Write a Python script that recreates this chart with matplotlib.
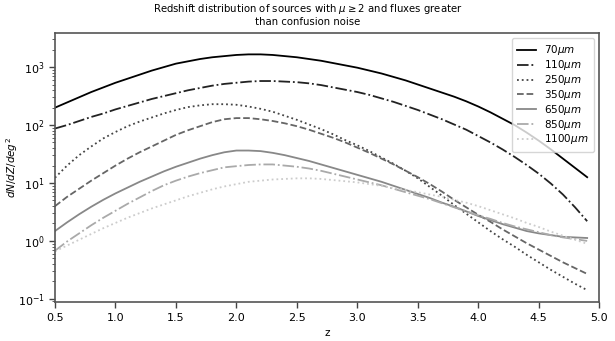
import numpy as np
import matplotlib
matplotlib.use("Agg")
import matplotlib.pyplot as plt

z = [0.5, 0.6, 0.7, 0.8, 0.9, 1.0, 1.1, 1.2, 1.3, 1.4, 1.5, 1.6, 1.7, 1.8, 1.9,
     2.0, 2.1, 2.2, 2.3, 2.4, 2.5, 2.6, 2.7, 2.8, 2.9, 3.0, 3.1, 3.2, 3.3, 3.4,
     3.5, 3.6, 3.7, 3.8, 3.9, 4.0, 4.1, 4.2, 4.3, 4.4, 4.5, 4.6, 4.7, 4.8, 4.9]

# log10(dN/dZ/deg^2)
log_70 = [2.30, 2.39, 2.48, 2.57, 2.65, 2.73, 2.80, 2.87, 2.94, 3.00, 3.06, 3.10, 3.14, 3.17, 3.19,
          3.21, 3.22, 3.22, 3.21, 3.19, 3.17, 3.14, 3.11, 3.07, 3.03, 2.99, 2.94, 2.89, 2.83, 2.77,
          2.70, 2.63, 2.56, 2.49, 2.41, 2.32, 2.22, 2.11, 2.00, 1.87, 1.73, 1.58, 1.42, 1.26, 1.10]
log_110 = [1.94, 2.00, 2.07, 2.14, 2.20, 2.27, 2.33, 2.39, 2.45, 2.50, 2.55, 2.60, 2.64, 2.68, 2.71,
           2.73, 2.75, 2.76, 2.76, 2.75, 2.74, 2.72, 2.69, 2.65, 2.61, 2.57, 2.52, 2.46, 2.40, 2.33,
           2.26, 2.18, 2.10, 2.01, 1.92, 1.81, 1.70, 1.58, 1.45, 1.31, 1.16, 0.99, 0.80, 0.58, 0.34]
log_250 = [1.09, 1.30, 1.48, 1.63, 1.77, 1.88, 1.98, 2.06, 2.13, 2.20, 2.26, 2.31, 2.34, 2.36, 2.36,
           2.35, 2.32, 2.28, 2.23, 2.16, 2.09, 2.01, 1.93, 1.84, 1.74, 1.65, 1.55, 1.44, 1.33, 1.21,
           1.08, 0.93, 0.78, 0.62, 0.47, 0.32, 0.17, 0.03, -0.10, -0.24, -0.37, -0.50, -0.62, -0.74, -0.85]
log_350 = [0.60, 0.76, 0.90, 1.04, 1.17, 1.30, 1.42, 1.53, 1.63, 1.73, 1.83, 1.91, 1.98, 2.05, 2.10,
           2.12, 2.12, 2.10, 2.07, 2.03, 1.98, 1.92, 1.85, 1.78, 1.70, 1.61, 1.52, 1.42, 1.32, 1.21,
           1.10, 0.98, 0.85, 0.71, 0.58, 0.45, 0.33, 0.20, 0.08, -0.04, -0.15, -0.26, -0.37, -0.47, -0.57]
log_650 = [0.17, 0.32, 0.46, 0.59, 0.71, 0.82, 0.92, 1.02, 1.11, 1.20, 1.28, 1.35, 1.42, 1.48, 1.53,
           1.56, 1.56, 1.55, 1.52, 1.48, 1.43, 1.38, 1.32, 1.26, 1.20, 1.14, 1.08, 1.02, 0.95, 0.88,
           0.81, 0.74, 0.66, 0.59, 0.51, 0.43, 0.36, 0.29, 0.23, 0.17, 0.13, 0.10, 0.07, 0.06, 0.05]
log_850 = [-0.17, -0.01, 0.13, 0.27, 0.40, 0.52, 0.64, 0.75, 0.86, 0.96, 1.04, 1.11, 1.17, 1.22, 1.27,
           1.29, 1.31, 1.32, 1.32, 1.30, 1.28, 1.25, 1.21, 1.16, 1.11, 1.06, 1.01, 0.96, 0.90, 0.84,
           0.78, 0.72, 0.65, 0.58, 0.51, 0.44, 0.38, 0.31, 0.25, 0.20, 0.15, 0.10, 0.06, 0.03, 0.00]
log_1100 = [-0.18, -0.08, 0.02, 0.12, 0.22, 0.31, 0.40, 0.48, 0.56, 0.63, 0.70, 0.77, 0.83, 0.89, 0.94,
            0.98, 1.02, 1.04, 1.06, 1.07, 1.08, 1.08, 1.07, 1.05, 1.03, 1.01, 0.98, 0.95, 0.91, 0.88,
            0.84, 0.80, 0.76, 0.71, 0.66, 0.60, 0.53, 0.46, 0.39, 0.31, 0.24, 0.16, 0.09, 0.02, -0.05]

labels = [r"70$\mu m$", r"110$\mu m$", r"250$\mu m$", r"350$\mu m$",
          r"650$\mu m$", r"850$\mu m$", r"1100$\mu m$"]
series = [log_70, log_110, log_250, log_350, log_650, log_850, log_1100]
styles = ["-", "-.", ":", "--", "-", "-.", ":"]
colors = [plt.cm.gray(v) for v in np.linspace(0, 0.8, 7)]

fig = plt.figure(figsize=(6.15, 3.41), dpi=100)
ax = fig.add_axes([0.0894, 0.114, 0.885, 0.789])

for s, lab, ls, c in zip(series, labels, styles, colors):
    ax.plot(z, 10 ** np.array(s), ls=ls, color=c, lw=1.3, label=lab)

ax.set_yscale("log")
ax.set_xlim(0.5, 5.0)
ax.set_ylim(0.0877, 3870)
ax.set_xticks(np.arange(0.5, 5.01, 0.5))
ax.tick_params(labelsize=8, color="#444444", width=1.0, length=4)
ax.tick_params(which="minor", color="#444444", width=0.6, length=2)
for sp in ax.spines.values():
    sp.set_color("#555555")
    sp.set_linewidth(1.2)
ax.set_xlabel("z", fontsize=7.5)
ax.set_ylabel(r"$dN/dZ/deg^2$", fontsize=7.5, labelpad=-2)
fig.suptitle("Redshift distribution of sources with $\\mu \\geq 2$ and fluxes greater\nthan confusion noise",
             fontsize=7.3, y=0.995)
leg = ax.legend(loc="upper right", fontsize=7.5, frameon=True, handlelength=1.8,
                labelspacing=0.08, borderpad=0.5)
leg.get_frame().set_edgecolor("#cccccc")

fig.savefig("out.png", dpi=100)
